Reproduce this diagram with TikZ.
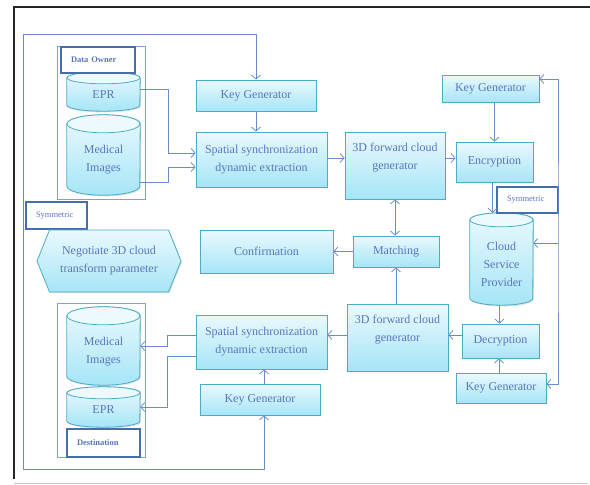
\documentclass[tikz,border=0pt]{standalone}
\usepackage{fontspec}
\setmainfont{Liberation Serif}
\usetikzlibrary{arrows.meta,shapes.symbols,shadows}
\pgfdeclarelayer{background}
\pgfsetlayers{background,main}
\definecolor{boxb}{RGB}{75,172,198}
\definecolor{fTop}{RGB}{234,249,254}
\definecolor{fBot}{RGB}{166,229,246}
\definecolor{cylTopC}{RGB}{236,250,254}
\definecolor{textc}{RGB}{88,118,190}
\definecolor{linec}{RGB}{105,140,202}
\definecolor{lblc}{RGB}{70,110,175}
\definecolor{grpc}{RGB}{130,160,215}
\newcommand\lowered[2]{\raisebox{#1}[\height][\depth]{\begin{tabular}{@{}c@{}}#2\end{tabular}}}
\newcommand\drawcyl[3]{%
  \path[cylbody] ([yshift=-#3]#1.north west) -- ([yshift=#3]#1.south west)
     arc[start angle=180,end angle=360,x radius=#2,y radius=#3]
     -- ([yshift=-#3]#1.north east)
     arc[start angle=0,end angle=180,x radius=#2,y radius=#3] -- cycle;
  \path[cyltop] ([yshift=-#3]#1.north) ellipse[x radius=#2,y radius=#3];
}
\begin{document}
\begin{tikzpicture}[x=1pt,y=-1pt,
  mainfont/.style={font=\fontsize{12}{18}\selectfont},
  box/.style={draw=boxb, line width=0.8pt, top color=fTop, bottom color=fBot,
     text=textc, mainfont, align=center, inner sep=2pt,
     drop shadow={opacity=0.25, shadow xshift=1pt, shadow yshift=-1.2pt}},
  hexa/.style={box, signal, signal to=west and east, signal pointer angle=136},
  cylnode/.style={inner sep=0pt, text=textc, mainfont, align=center},
  cylbody/.style={draw=boxb, line width=0.8pt, top color=fTop, bottom color=fBot,
     drop shadow={opacity=0.25, shadow xshift=1pt, shadow yshift=-1.2pt}},
  cyltop/.style={draw=boxb, line width=0.8pt, fill=cylTopC},
  grp/.style={draw=grpc, line width=0.8pt, inner sep=0pt},
  lbl/.style={draw=lblc, line width=1.6pt, fill=white, text=textc, align=left,
     inner xsep=10pt, inner ysep=0pt, font=\fontsize{8.5}{10}\selectfont},
  lblb/.style={lbl, font=\bfseries\fontsize{8.5}{10}\selectfont},
  conn/.style={draw=linec, line width=0.8pt},
  arr/.style={conn, -{Straight Barb[length=4pt,width=9pt]}},
  dbl/.style={conn, {Straight Barb[length=4pt,width=9pt]}-{Straight Barb[length=4pt,width=9pt]}}
]
\useasboundingbox (0,0) rectangle (590,485);
% frame
\draw[black!85, line width=1.2pt] (590,7) -- (14,7) -- (14,479);
\draw[black!22, line width=0.8pt] (14,483) -- (588,483);

% groups
\node[grp, minimum width=88pt, minimum height=153pt] (ownerg) at (101,122.5) {};
\node[grp, minimum width=88pt, minimum height=154pt] (destg) at (101,380) {};

% cylinders
\node[cylnode, minimum width=73pt, minimum height=39pt] (eprA) at (103.5,91.5) {\lowered{-3.5pt}{EPR}};
\node[cylnode, minimum width=73pt, minimum height=80pt] (miA) at (103.5,155) {\lowered{-4pt}{Medical\\Images}};
\node[cylnode, minimum width=73pt, minimum height=78pt] (miB) at (103.5,346) {\lowered{-4.5pt}{Medical\\Images}};
\node[cylnode, minimum width=73pt, minimum height=40pt] (eprB) at (103.5,407) {\lowered{-3pt}{EPR}};
\node[cylnode, minimum width=63pt, minimum height=92pt] (csp) at (501.5,259) {\lowered{-6pt}{Cloud\\Service\\Provider}};
\begin{pgfonlayer}{background}
  \drawcyl{eprA}{36.5pt}{6pt}
  \drawcyl{miA}{36.5pt}{9pt}
  \drawcyl{miB}{36.5pt}{9pt}
  \drawcyl{eprB}{36.5pt}{6pt}
  \drawcyl{csp}{31.5pt}{7pt}
\end{pgfonlayer}

% labels
\node[lblb, text width=54pt, minimum height=26pt] (ownerl) at (98,60) {Data Owner};
\node[lblb, text width=53pt, minimum height=28pt] (destl) at (103.5,443) {Destination};
\node[lbl, text width=41pt, minimum height=27pt] (symA) at (56.5,215.5) {Symmetric};
\node[lbl, text width=41pt, minimum height=26pt, inner xsep=10pt] (symB) at (527.5,200) {Symmetric};

% boxes
\node[box, minimum width=120pt, minimum height=31pt] (kgA) at (256,95.5) {Key Generator};
\node[box, minimum width=131pt, minimum height=55pt] (ssA) at (261.5,159.5) {Spatial synchronization\\dynamic extraction};
\node[box, minimum width=100pt, minimum height=67pt] (fcA) at (395,165.5) {3D forward cloud\\generator\\\mbox{}};
\node[box, minimum width=77pt, minimum height=40pt] (enc) at (494.5,162) {Encryption};
\node[box, minimum width=97pt, minimum height=27pt] (kgB) at (490.5,88.5) {Key Generator};
\node[box, minimum width=77pt, minimum height=34pt] (dec) at (500.5,341) {Decryption};
\node[box, minimum width=90pt, minimum height=30pt] (kgC) at (501,388) {Key Generator};
\node[box, minimum width=101pt, minimum height=67pt] (fcB) at (397.5,337.5) {3D forward cloud\\generator\\\mbox{}};
\node[box, minimum width=86pt, minimum height=31pt] (match) at (396,251.5) {Matching};
\node[box, minimum width=133pt, minimum height=43pt] (conf) at (266.5,251.5) {Confirmation};
\node[hexa, minimum width=144pt, minimum height=62pt] (nego) at (109,261) {Negotiate 3D cloud\\transform parameter};
\node[box, minimum width=131pt, minimum height=54pt] (ssB) at (261.5,342) {Spatial synchronization\\dynamic extraction};
\node[box, minimum width=120pt, minimum height=31pt] (kgD) at (260,399.5) {Key Generator};

% coordinates for loops
\coordinate (lTL) at (23,34);
\coordinate (lBL) at (23,469);
\coordinate (rX) at (558,243);

% connectors
\draw[dbl] (kgA.north) |- (lTL) -- (lBL) -| ([xshift=4pt]kgD.south);
\draw[arr] (kgA.south) -- (kgA.south |- ssA.north);
\draw[arr] ([yshift=2.5pt]eprA.east) -- ++(28pt,0) |- ([yshift=6.5pt]ssA.west);
\draw[arr] ([yshift=-27pt]miA.east) -- ++(28pt,0) |- ([yshift=-7.5pt]ssA.west);
\draw[arr] ([yshift=1.5pt]ssA.east) -- ([yshift=1.5pt]ssA.east -| fcA.west);
\draw[arr] ([yshift=1.5pt]ssA.east -| fcA.east) -- ([yshift=1.5pt]ssA.east -| enc.west);
\draw[arr] (kgB.south -| enc.north) -- (enc.north);
\draw[arr] ([xshift=-2pt]enc.south) -- ([xshift=-2pt]enc.south |- csp.north);
\draw[dbl] ([yshift=9.5pt]kgB.east) -| (rX) |- ([yshift=4pt]kgC.east);
\draw[arr] (rX) -- (rX -| csp.east);
\draw[arr] ([xshift=-2pt]csp.south) -- ([xshift=-2pt]csp.south |- dec.north);
\draw[arr] ([xshift=-2pt]kgC.north) -- ([xshift=-2pt]kgC.north |- dec.south);
\draw[arr] ([yshift=6pt]dec.west) -- ([yshift=6pt]dec.west -| fcB.east);
\draw[arr] ([xshift=-1.5pt]fcB.north) -- ([xshift=-1.5pt]fcB.north |- match.south);
\draw[dbl] (fcA.south) -- (fcA.south |- match.north);
\draw[arr] (match.west) -- (conf.east);
\draw[arr] ([yshift=2.5pt]fcB.west) -- ([yshift=2.5pt]fcB.west -| ssB.east);
\draw[arr] ([yshift=7pt]ssB.west) -- ++(-28pt,0) |- (miB.east);
\draw[arr] ([yshift=-14pt]ssB.west) -- ++(-28pt,0) |- (eprB.east);
\draw[arr] ([xshift=4pt]kgD.north) -- ([xshift=4pt]kgD.north |- ssB.south);
\end{tikzpicture}
\end{document}
